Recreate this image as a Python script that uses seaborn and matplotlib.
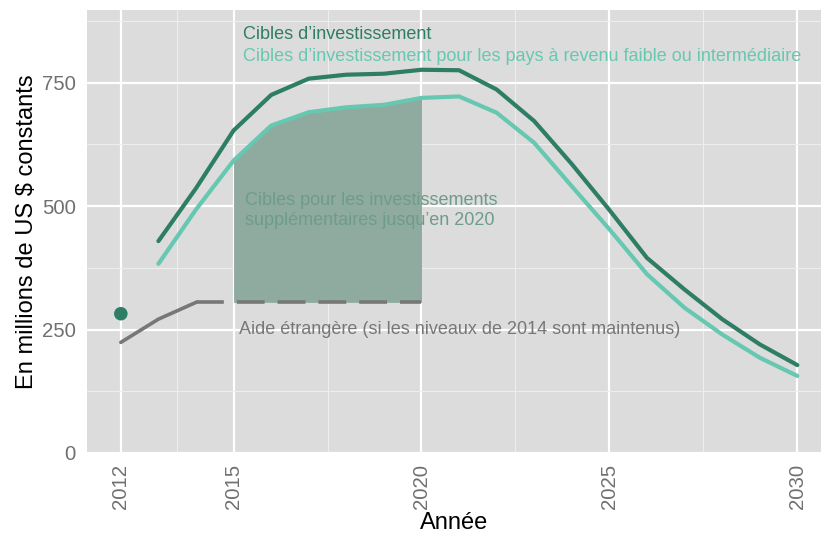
import numpy as np
import pandas as pd
import matplotlib
matplotlib.use("Agg")
import matplotlib.pyplot as plt
import seaborn as sns

# ---- data ----
years_targets = [2013, 2014, 2015, 2016, 2017, 2018, 2019, 2020, 2021, 2022,
                 2023, 2024, 2025, 2026, 2027, 2028, 2029, 2030]
invest_targets = [429, 536, 653, 725, 758, 766, 768, 776, 775, 736,
                  672, 585, 492, 395, 331, 271, 220, 178]
invest_lmic = [383, 493, 592, 663, 690, 700, 705, 719, 722, 689,
               628, 540, 453, 362, 294, 240, 193, 156]

years_aid = [2012, 2013, 2014]
aid_values = [224, 271, 305]
years_aid_proj = [2014, 2020]
aid_proj = [305, 305]

point_year = [2012]
point_value = [282]

fill_years = [2015, 2016, 2017, 2018, 2019, 2020]

x_ticks = [2012, 2015, 2020, 2025, 2030]
y_ticks = [0, 250, 500, 750]

label_targets = "Cibles d\u2019investissement"
label_lmic = "Cibles d\u2019investissement pour les pays à revenu faible ou intermédiaire"
label_fill = "Cibles pour les investissements\nsupplémentaires jusqu\u2019en 2020"
label_aid = "Aide étrangère (si les niveaux de 2014 sont maintenus)"
xlabel = "Année"
ylabel = "En millions de US $ constants"

# ---- colors ----
c_dark = "#2e7d65"
c_light = "#66c8b0"
c_gray = "#777777"
c_fill = "#8fab9f"
c_filltext = "#6d9c89"
bg = "#dcdcdc"

sns.set_theme(style="darkgrid")
plt.rcParams['font.family'] = ['Liberation Sans', 'DejaVu Sans']

fig = plt.figure(figsize=(8.21, 5.43), dpi=100)
ax = fig.add_axes([87/821, 1 - 453/543, 1 - 87/821, (453 - 10)/543])
ax.set_facecolor(bg)

df = pd.DataFrame({
    "year": years_targets * 2,
    "value": invest_targets + invest_lmic,
    "series": ["targets"] * len(years_targets) + ["lmic"] * len(years_targets),
})

# fill between aid level and LMIC line for 2015-2020
lmic_map = dict(zip(years_targets, invest_lmic))
ax.fill_between(fill_years, [aid_proj[0]] * len(fill_years),
                [lmic_map[y] for y in fill_years],
                color=c_fill, lw=0, zorder=2)

sns.lineplot(data=df, x="year", y="value", hue="series",
             palette={"targets": c_dark, "lmic": c_light},
             linewidth=3.0, legend=False, ax=ax, zorder=3)

sns.lineplot(x=years_aid, y=aid_values, color=c_gray, linewidth=2.6, ax=ax, zorder=3)
ax.plot(years_aid_proj, aid_proj, color=c_gray, linewidth=2.6,
        dashes=(7.7, 3.6), zorder=3, solid_capstyle="butt", dash_capstyle="butt")
sns.scatterplot(x=point_year, y=point_value, color=c_dark, s=95, ax=ax,
                zorder=4, edgecolor="none")

# texts
ax.text(2015.25, 847, label_targets, color=c_dark, fontsize=13, va="center", ha="left")
ax.text(2015.25, 802, label_lmic, color=c_light, fontsize=13, va="center", ha="left")
ax.text(2015.3, 491, label_fill, color=c_filltext, fontsize=13, va="center",
        ha="left", linespacing=1.3, zorder=5)
ax.text(2015.15, 250, label_aid, color=c_gray, fontsize=13, va="center", ha="left")

# axes
ax.set_xlim(2011.1, 2030.63)
ax.set_ylim(0, 897)
ax.set_xticks(x_ticks)
ax.set_yticks(y_ticks)
ax.set_xticks([2013.5, 2017.5, 2022.5, 2027.5], minor=True)
ax.set_yticks([125, 375, 625, 875], minor=True)
ax.grid(which="major", color="white", linewidth=1.6)
ax.grid(which="minor", color="#eeeeee", linewidth=0.8)
ax.set_axisbelow(True)
for s in ax.spines.values():
    s.set_visible(False)
ax.tick_params(axis="both", which="major", length=5, width=1.2, color="#777777",
               labelcolor="#707070", labelsize=14.7, direction="out", pad=3)
ax.tick_params(axis="both", which="minor", length=0)
plt.setp(ax.get_xticklabels(), rotation=90)
ax.set_xlabel(xlabel, fontsize=17, color="black", labelpad=2)
ax.set_ylabel(ylabel, fontsize=17, color="black", labelpad=3)

fig.savefig("out.png", dpi=100)
